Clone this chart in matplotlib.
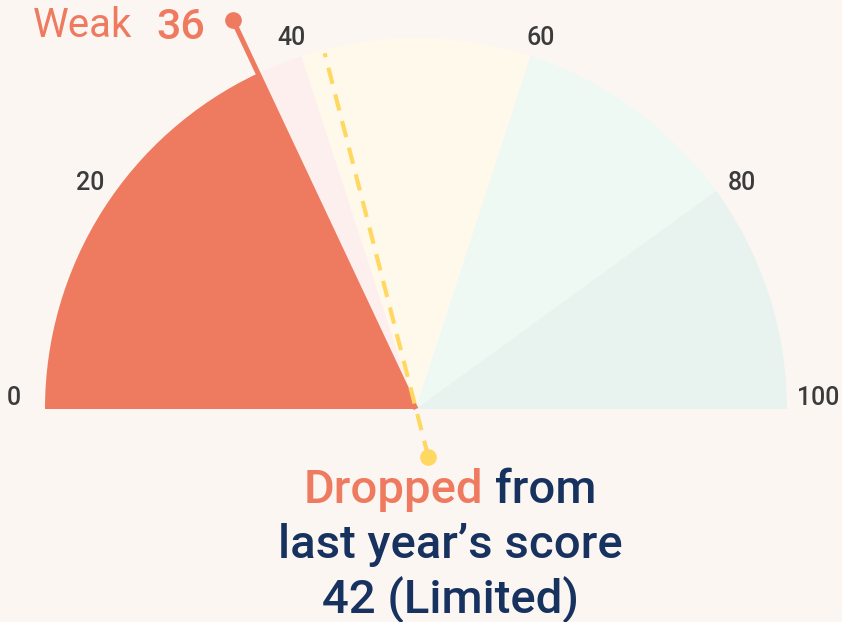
import numpy as np
import matplotlib
matplotlib.use("Agg")
import matplotlib.pyplot as plt
from matplotlib.patches import Wedge

# gauge data
score = 36
score_label = "Weak"
last_score = 42
last_label = "Limited"
band_edges = [0, 40, 60, 80, 100]
band_colors = ["#fcefee", "#fff9ec", "#eef9f4", "#e8f3ef"]
tick_values = [0, 20, 40, 60, 80, 100]

bg = "#fcf6f3"
coral = "#ee7a5f"
navy = "#17325f"
yellow = "#ffd862"
grey = "#3b3b3b"
font = "Roboto"


def angle(v):
    # 0 -> left end, 100 -> right end of the half circle
    return 180 - 1.8 * v


def polar(r, v):
    a = np.radians(angle(v))
    return r * np.cos(a), r * np.sin(a)


fig = plt.figure(figsize=(8.42, 6.22), dpi=100, facecolor=bg)
ax = fig.add_axes([0, 0, 1, 1])
ax.set_facecolor(bg)
ax.set_xlim(-416 / 371, 426 / 371)
ax.set_ylim(-213 / 371, 409 / 371)
ax.set_aspect("equal")
ax.axis("off")

# background bands
for lo, hi, c in zip(band_edges[:-1], band_edges[1:], band_colors):
    ax.add_patch(Wedge((0, 0), 1, angle(hi), angle(lo), facecolor=c, edgecolor="none", zorder=1))

# filled score
ax.add_patch(Wedge((0, 0), 1, angle(score), angle(0), facecolor=coral, edgecolor="none", zorder=2))

# needle for current score
nx, ny = polar(1.16, score)
ax.plot([0, nx], [0, ny], color=coral, lw=3.6, solid_capstyle="butt", zorder=3)
ax.plot(nx, ny, "o", color=coral, ms=11, zorder=4)
ax.text(nx - 0.075, ny - 0.051, str(score), color=coral, fontsize=31, fontweight="medium",
        family=font, ha="right", va="baseline", zorder=5)
ax.text(nx - 0.272, ny - 0.046, score_label, color=coral, fontsize=29, family=font,
        ha="right", va="baseline", zorder=5)

# dashed marker for last year's score
x0, y0 = polar(-0.133, last_score)
x1, y1 = polar(0.99, last_score)
ax.plot([x0, x1], [y0, y1], color=yellow, lw=3, ls=(0, (4, 2.6)), zorder=4)
ax.plot(x0, y0, "o", color=yellow, ms=11, zorder=4)

# tick labels around the arc
for v in tick_values:
    a = np.radians(angle(v))
    tx, ty = polar(1.085, v)
    lift = 0.03 - 0.055 * np.sin(a) - 0.03 * np.sin(2 * a) ** 2
    ax.text(tx, ty + lift, str(v), color=grey, fontsize=18, family=font,
            fontweight="medium", ha="center", va="center", zorder=5)

# caption below the gauge
cx = 34 / 371
line_y = [(409 - 503) / 371, (409 - 558) / 371, (409 - 613) / 371]
cap_kw = dict(fontsize=34, family=font, fontweight="medium", va="baseline", zorder=5)

fig.canvas.draw()
renderer = fig.canvas.get_renderer()
inv = ax.transData.inverted()


def text_width(s):
    t = ax.text(0, 0, s, **cap_kw)
    bb = t.get_window_extent(renderer)
    t.remove()
    (xa, _), (xb, _) = inv.transform([[bb.x0, bb.y0], [bb.x1, bb.y0]])
    return xb - xa


w_drop = text_width("Dropped ")
w_line = text_width("Dropped from")
left = cx - w_line / 2
ax.text(left, line_y[0], "Dropped", color=coral, ha="left", **cap_kw)
ax.text(left + w_drop, line_y[0], "from", color=navy, ha="left", **cap_kw)
ax.text(cx, line_y[1], "last year\u2019s score", color=navy, ha="center", **cap_kw)
ax.text(cx, line_y[2], f"{last_score} ({last_label})", color=navy, ha="center", **cap_kw)

fig.savefig("out.png", dpi=100, facecolor=bg)
